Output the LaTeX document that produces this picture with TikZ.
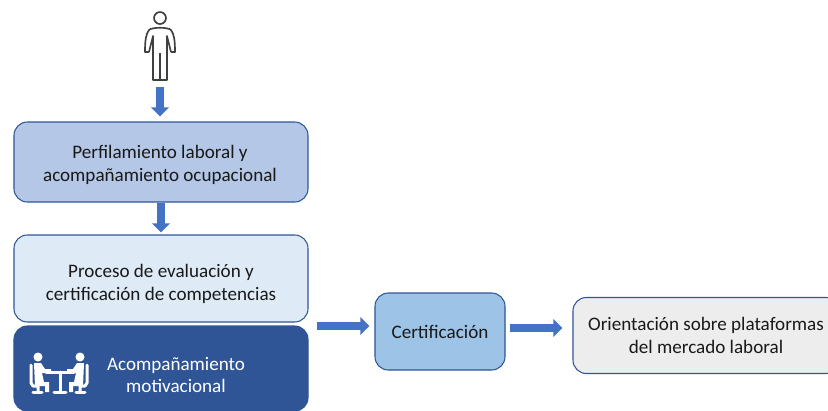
\documentclass[tikz,border=0pt]{standalone}
\usepackage{fontspec}
\setmainfont{Carlito}
\usetikzlibrary{arrows.meta}
\definecolor{bordeazul}{HTML}{2F5597}
\definecolor{flechaazul}{HTML}{4472C4}
\tikzset{
    caja/.style={draw=#1,line width=0.9pt,rounded corners=0.4cm,align=center,
        text=black!90,font=\fontsize{16.3}{19.5}\selectfont},
    caja/.default=bordeazul,
    texto/.style={align=center,text=#1,font=\fontsize{16.3}{19.5}\selectfont},
    texto/.default=black!90,
    flecha/.style={draw=flechaazul,line width=0.24cm,
        -{Triangle[length=0.27cm,width=0.52cm]}},
    icono/.style={white,line width=0.09cm,line cap=round,line join=round}
}
\begin{document}
\begin{tikzpicture}[x=0.03cm,y=-0.03cm]
    \useasboundingbox (0,0) rectangle (828,410);
    \clip (0,0) rectangle (828,410);
    \node[caja,fill={rgb,255:red,180;green,199;blue,231},
        minimum width=8.82cm,minimum height=2.4cm] (perfil) at (161,162) {};
    \node[texto] (perfiltxt) at (160,164.5)
        {Perfilamiento laboral y\\acompañamiento ocupacional};
    \node[caja,fill={rgb,255:red,222;green,235;blue,247},
        minimum width=8.82cm,minimum height=2.61cm] (proceso) at (161,278.5) {};
    \node[texto] (procesotxt) at (161,283.5)
        {Proceso de evaluación y\\certificación de competencias};
    \node[caja,fill=bordeazul,minimum width=8.82cm,minimum height=2.55cm] (motiva) at (161,368.5) {};
    \node[texto=white] (motivatxt) at (176,375)
        {Acompañamiento\\motivacional};
    \node[caja,fill={rgb,255:red,157;green,195;blue,230},
        minimum width=3.9cm,minimum height=2.31cm] (certi) at (440,331.5) {Certificación};
    \node[caja,fill={rgb,255:red,237;green,237;blue,237},
        minimum width=7.98cm,minimum height=2.28cm] (orienta) at (706,335.5)
        {Orientación sobre plataformas\\del mercado laboral};
    % persona
    \coordinate (pies) at (160,87);
    \draw[black!75,line width=0.05cm,line join=round] (160,18) circle (6);
    \draw[black!75,line width=0.05cm,line join=round]
    (149,52) -- (145,52) .. controls (145,40) and (146,34) .. (149,30)
    .. controls (152,27) and (168,27) .. (171,30)
    .. controls (174,34) and (175,40) .. (175,52) -- (171,52)
    (149,52) -- (153,36) -- (153,80) -- (167,80) -- (167,36) -- (171,52)
    (160,53) -- (160,80);
    % flechas
    \draw[flecha,shorten >=0.15cm] (pies) -- (pies |- perfil.north);
    \draw[flecha,shorten >=0.06cm,shorten <=0.02cm] (perfil.south) -- (proceso.north);
    \coordinate (salida) at (317,326);
    \draw[flecha,shorten >=0.15cm] (salida) -- (certi.west |- salida);
    \coordinate (salidados) at (510,328);
    \draw[flecha,shorten >=0.3cm] (salidados) -- (orienta.west |- salidados);
    % icono mesa
    \foreach \sgn in {1,-1}{
        \begin{scope}[shift={(59,0)},xscale=\sgn]
            \fill[white] (-21,357) circle (4.5);
            \fill[white] (-25,363) -- (-18,363) -- (-14,369) -- (-8,369) -- (-8,373) -- (-17,373)
            -- (-15,382) -- (-10,382) -- (-10,392) -- (-14,392) -- (-14,386) -- (-24,386) -- cycle;
            \draw[icono] (-28,365) -- (-28,383) -- (-26,386) -- (-21,386) -- (-21,392);
            \draw[icono] (-26,392) -- (-17,392);
        \end{scope}
    }
    \draw[icono] (46,372) -- (74,372) (60,372) -- (60,392) (54,392) -- (66,392);
\end{tikzpicture}
\end{document}
